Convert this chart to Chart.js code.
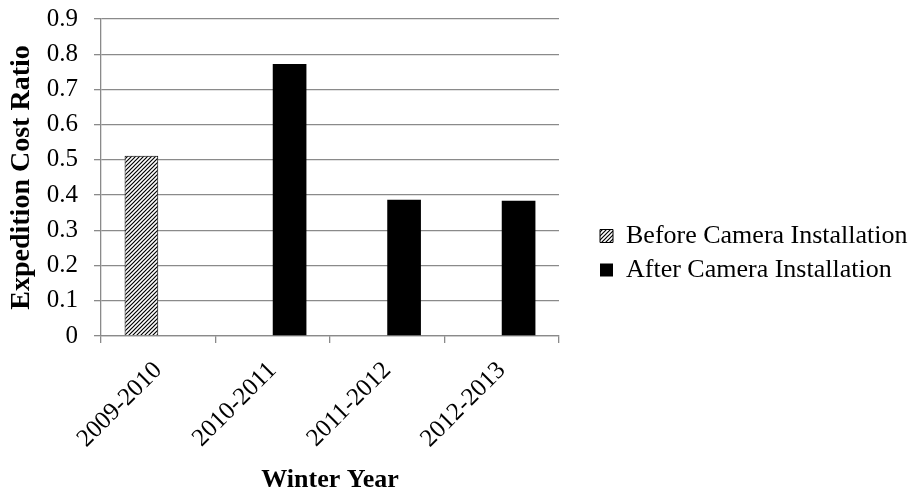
<!DOCTYPE html>
<html>
<head>
<meta charset="utf-8">
<script src="https://cdn.jsdelivr.net/npm/chart.js@4.4.1/dist/chart.umd.min.js"></script>
<style>
    html, body { margin: 0; padding: 0; background: #fff; }
    canvas { display: block; }
</style>
</head>
<body>
<canvas id="chart" width="912" height="493"></canvas>
<script>
// Data
const winterYears = ['2009-2010', '2010-2011', '2011-2012', '2012-2013'];
const beforeCamera = [0.512, null, null, null];
const afterCamera = [null, 0.772, 0.387, 0.384];
const yTicks = [0, 0.1, 0.2, 0.3, 0.4, 0.5, 0.6, 0.7, 0.8, 0.9];

const serif = "'Times New Roman', 'Liberation Serif', serif";
const gridGray = '#8a8a8a';

const ctx = document.getElementById('chart').getContext('2d');

// Pola garis miring untuk batang "Before"
function makeHatch() {
    const c = document.createElement('canvas');
    c.width = 4;
    c.height = 4;
    const g = c.getContext('2d');
    g.fillStyle = '#fff';
    g.fillRect(0, 0, 4, 4);
    g.strokeStyle = '#000';
    g.lineWidth = 1.2;
    g.beginPath();
    g.moveTo(0, 4); g.lineTo(4, 0);
    g.moveTo(-1, 1); g.lineTo(1, -1);
    g.moveTo(3, 5); g.lineTo(5, 3);
    g.stroke();
    return ctx.createPattern(c, 'repeat');
}

// Lebar legend dibuat tetap, posisinya sedikit digeser
const legendWidth = {
    id: 'legendWidth',
    afterInit(chart) {
        const fit = chart.legend.fit;
        chart.legend.fit = function () {
            fit.call(this);
            this.width = 320;
        };
    },
    afterLayout(chart) {
        chart.legend.top -= 6;
    }
};

new Chart(ctx, {
    type: 'bar',
    data: {
        labels: winterYears,
        datasets: [{
            label: 'Before Camera Installation',
            data: beforeCamera,
            backgroundColor: makeHatch(),
            borderColor: '#000',
            borderWidth: 1,
            categoryPercentage: 1 / 1.7,
            barPercentage: 1
        }, {
            label: 'After Camera Installation',
            data: afterCamera,
            backgroundColor: '#000',
            borderColor: '#000',
            borderWidth: 0,
            categoryPercentage: 1 / 1.7,
            barPercentage: 1
        }]
    },
    options: {
        responsive: false,
        animation: false,
        layout: {
            padding: { top: 19, right: 0, bottom: 0, left: 0 }
        },
        plugins: {
            tooltip: { enabled: false },
            legend: {
                position: 'right',
                align: 'center',
                labels: {
                    color: '#000',
                    boxWidth: 13,
                    boxHeight: 13,
                    padding: 8,
                    font: { family: serif, size: 26 }
                }
            }
        },
        scales: {
            x: {
                grid: {
                    display: true,
                    drawOnChartArea: false,
                    drawTicks: true,
                    tickLength: 7,
                    color: gridGray,
                    lineWidth: 1.3
                },
                border: { color: gridGray, width: 1.3 },
                ticks: {
                    color: '#000',
                    minRotation: 45,
                    maxRotation: 45,
                    autoSkip: false,
                    padding: 13,
                    font: { family: serif, size: 25 }
                },
                title: {
                    display: true,
                    text: 'Winter Year',
                    color: '#000',
                    padding: { top: 0, bottom: 0 },
                    font: { family: serif, size: 26, weight: 'bold', lineHeight: 1 }
                },
                afterFit: scale => { scale.height = 157; }
            },
            y: {
                min: 0,
                max: 0.9,
                afterBuildTicks: scale => {
                    scale.ticks = yTicks.map(v => ({ value: v }));
                },
                grid: {
                    color: gridGray,
                    lineWidth: 1.3,
                    tickLength: 7
                },
                border: { color: gridGray, width: 1.3 },
                ticks: {
                    color: '#000',
                    padding: 16,
                    font: { family: serif, size: 25 },
                    callback: v => String(+v.toFixed(1))
                },
                title: {
                    display: true,
                    text: 'Expedition Cost Ratio',
                    color: '#000',
                    padding: { top: 8, bottom: 0 },
                    font: { family: serif, size: 28, weight: 'bold', lineHeight: 1 }
                },
                afterFit: scale => {
                    scale.width = 101;
                    scale.paddingTop = 0;
                    scale.paddingBottom = 0;
                }
            },
            // sumbu kosong untuk jarak antara plot dan legend
            gap: {
                type: 'linear',
                position: 'right',
                display: true,
                grid: { display: false },
                border: { display: false },
                ticks: { display: false },
                afterFit: scale => {
                    scale.width = 33;
                    scale.paddingTop = 0;
                    scale.paddingBottom = 0;
                }
            }
        }
    },
    plugins: [legendWidth]
});
</script>
</body>
</html>
